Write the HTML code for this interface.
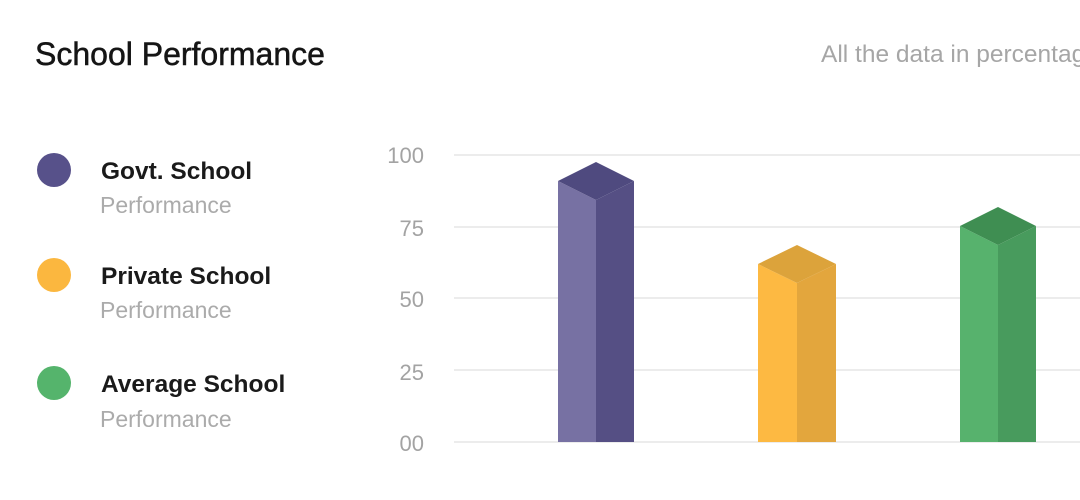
<!DOCTYPE html>
<html>
<head>
<meta charset="utf-8">
<style>
  html, body { margin:0; padding:0; width:1080px; height:500px; overflow:hidden; background:#ffffff; }
  body { position:relative; font-family:"Liberation Sans", sans-serif; }
</style>
</head>
<body>
<svg width="1080" height="500" viewBox="0 0 1080 500" xmlns="http://www.w3.org/2000/svg" style="position:absolute;left:0;top:0">
  <!-- title -->
  <text x="35" y="65" font-family="Liberation Sans, sans-serif" font-size="32" fill="#151515" stroke="#151515" stroke-width="0.5">School Performance</text>
  <text x="821" y="62" font-family="Liberation Sans, sans-serif" font-size="24.5" fill="#a6a6a6">All the data in percentage</text>

  <!-- legend -->
  <circle cx="54" cy="170" r="17" fill="#57518a"/>
  <circle cx="54" cy="275" r="17" fill="#fbb73f"/>
  <circle cx="54" cy="383" r="17" fill="#55b46c"/>
  <g font-family="Liberation Sans, sans-serif" font-size="24.5" font-weight="bold" fill="#1a1a1a">
    <text x="101" y="179">Govt. School</text>
    <text x="101" y="284">Private School</text>
    <text x="101" y="392">Average School</text>
  </g>
  <g font-family="Liberation Sans, sans-serif" font-size="23" fill="#ababab">
    <text x="100" y="213">Performance</text>
    <text x="100" y="318">Performance</text>
    <text x="100" y="427">Performance</text>
  </g>

  <!-- y axis labels -->
  <g font-family="Liberation Sans, sans-serif" font-size="22" fill="#a3a3a3" text-anchor="end">
    <text x="424" y="163">100</text>
    <text x="424" y="236">75</text>
    <text x="424" y="307">50</text>
    <text x="424" y="380">25</text>
    <text x="424" y="451">00</text>
  </g>

  <!-- gridlines -->
  <g stroke="#ececec" stroke-width="2">
    <line x1="454" y1="155" x2="1080" y2="155"/>
    <line x1="454" y1="227" x2="1080" y2="227"/>
    <line x1="454" y1="298" x2="1080" y2="298"/>
    <line x1="454" y1="370" x2="1080" y2="370"/>
    <line x1="454" y1="442" x2="1080" y2="442"/>
  </g>

  <!-- purple bar -->
  <polygon points="558,181 596,200 596,442 558,442" fill="#7771a3"/>
  <polygon points="596,200 634,181 634,442 596,442" fill="#554f84"/>
  <polygon points="558,181 596,162 634,181 596,200" fill="#4f4a7f"/>

  <!-- yellow bar -->
  <polygon points="758,264 797,283 797,442 758,442" fill="#fdb942"/>
  <polygon points="797,283 836,264 836,442 797,442" fill="#e3a63d"/>
  <polygon points="758,264 797,245 836,264 797,283" fill="#dca33b"/>

  <!-- green bar -->
  <polygon points="960,226 998,245 998,442 960,442" fill="#57b26d"/>
  <polygon points="998,245 1036,226 1036,442 998,442" fill="#489b5d"/>
  <polygon points="960,226 998,207 1036,226 998,245" fill="#3f8e52"/>
</svg>
</body>
</html>
